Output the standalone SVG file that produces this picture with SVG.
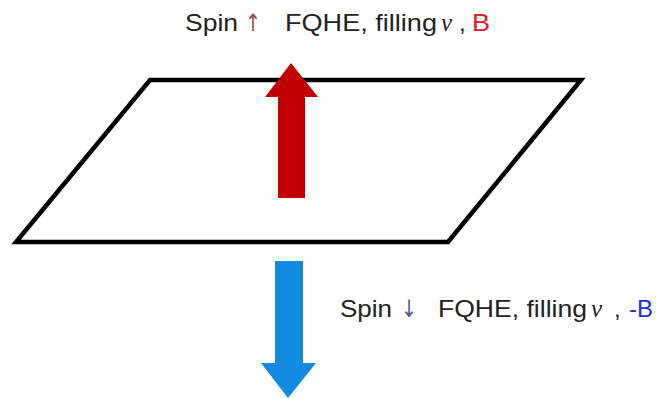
<svg xmlns="http://www.w3.org/2000/svg" width="662" height="399" viewBox="0 0 662 399">
<style>
.t{font-family:"Liberation Sans",Arial,sans-serif;font-size:24px;fill:#222}
.nu{font-family:"Liberation Serif","Times New Roman",serif;font-size:25px;fill:#222;font-style:italic}
.ar{font-family:"DejaVu Sans",sans-serif;font-size:24px}
</style>
<rect width="662" height="399" fill="#fff"/>
<g id="plane">
<polygon points="150,80 581,80 448,242 16,242" fill="#fff" stroke="#000" stroke-width="4.5" stroke-linejoin="miter"/>
</g>
<g id="connectors">
<polygon id="up-arrow" points="278,198 278,97 265,97 291,63 318,97 305,97 305,198" fill="#C00000"/>
<polygon id="down-arrow" points="275,261 303,261 303,363 316,363 288,398 261,363 275,363" fill="#118ADF"/>
</g>
<g id="label-top">
<text class="t" x="185" y="31" textLength="53" lengthAdjust="spacingAndGlyphs">Spin</text>
<text class="ar" x="245" y="31" style="fill:#9A4A4A" textLength="16" lengthAdjust="spacingAndGlyphs">↑</text>
<text class="t" x="285" y="31" textLength="152" lengthAdjust="spacingAndGlyphs">FQHE, filling</text>
<text class="nu" x="441" y="31">ν</text>
<text class="t" x="459" y="31">,</text>
<text class="t" x="472" y="31" style="fill:#E02020" textLength="18" lengthAdjust="spacingAndGlyphs">B</text>
</g>
<g id="label-bottom">
<text class="t" x="340" y="317" textLength="52" lengthAdjust="spacingAndGlyphs">Spin</text>
<text class="ar" x="401" y="317" style="fill:#4A5A9A" textLength="16" lengthAdjust="spacingAndGlyphs">↓</text>
<text class="t" x="438" y="317" textLength="149" lengthAdjust="spacingAndGlyphs">FQHE, filling</text>
<text class="nu" x="591" y="317">ν</text>
<text class="t" x="614" y="317">,</text>
<text class="t" x="629" y="317" style="fill:#2030E0" textLength="24" lengthAdjust="spacingAndGlyphs">-B</text>
</g>
</svg>
